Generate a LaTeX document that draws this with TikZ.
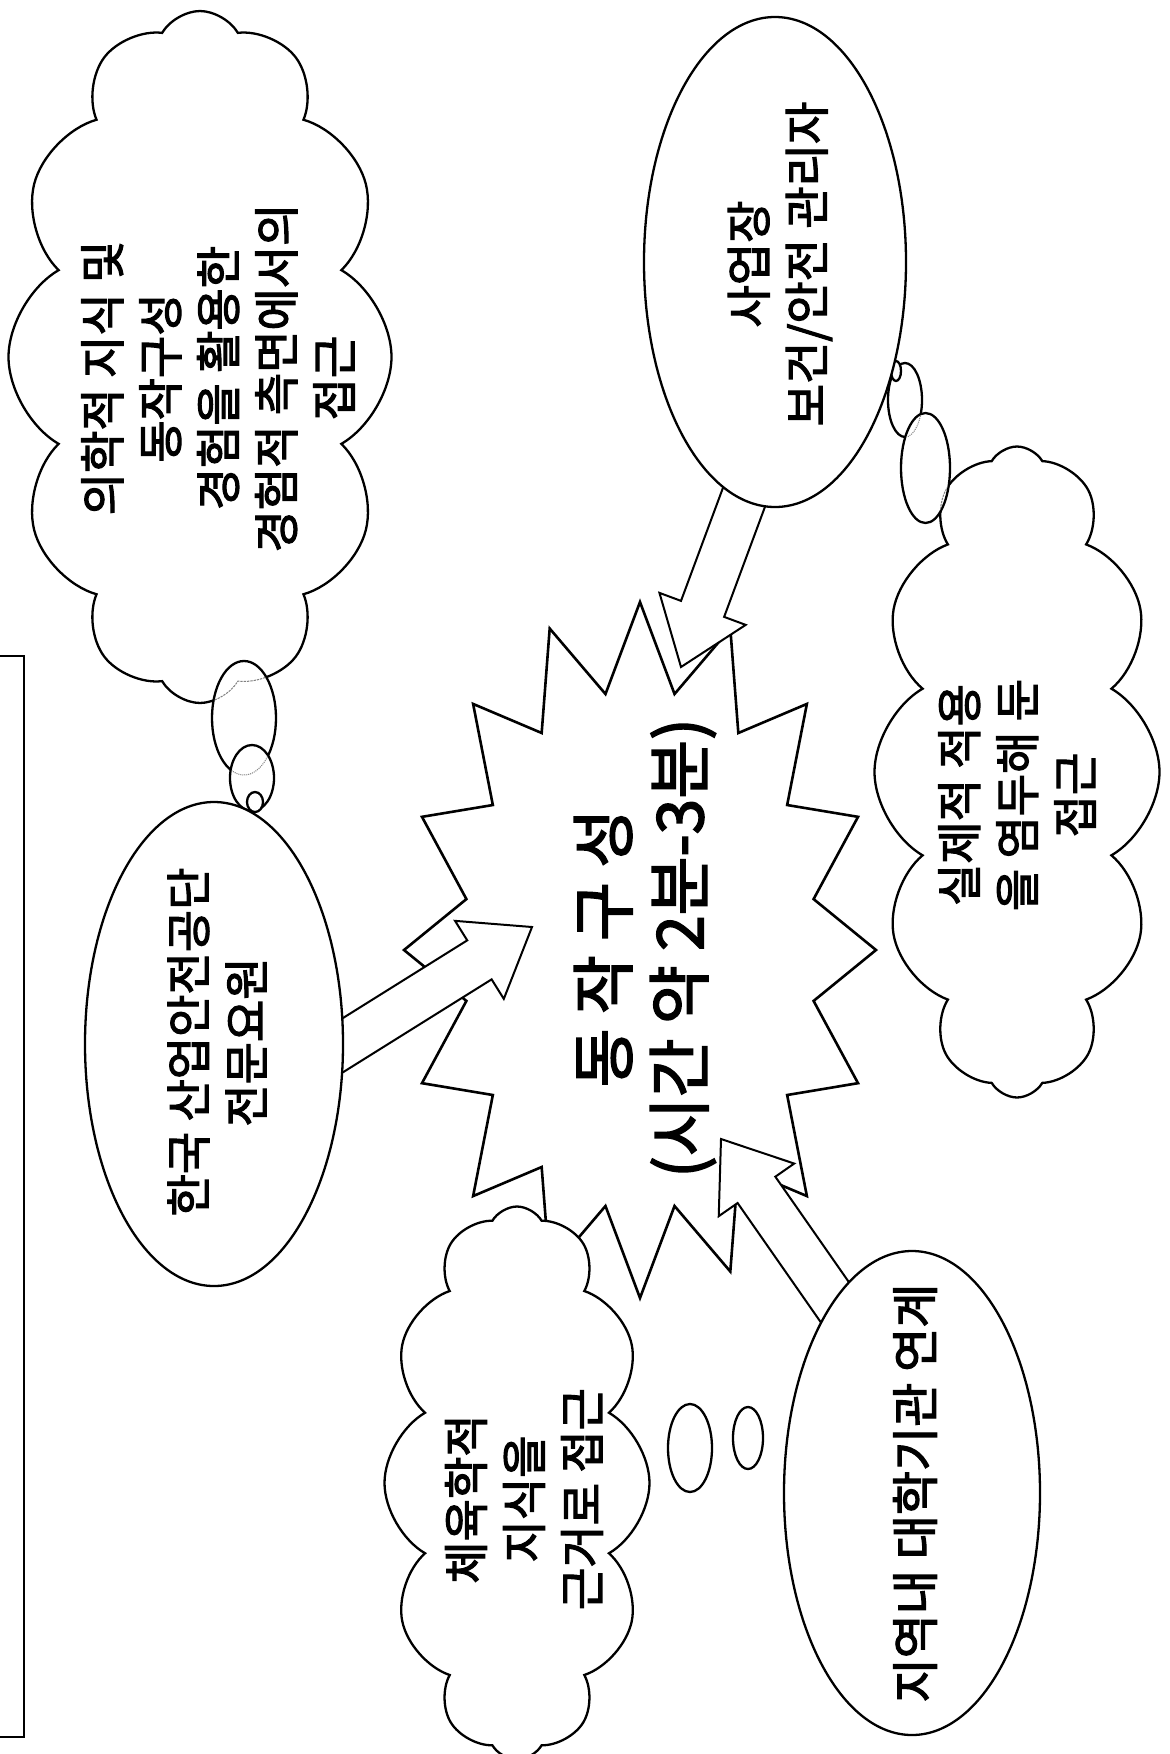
\documentclass[tikz,border=0pt]{standalone}
\usepackage{fontspec}
\setmainfont{Noto Sans CJK KR}[FakeBold=2.5]
\usetikzlibrary{shapes.geometric,shapes.symbols,calc}
\newcommand{\starpath}{(640,602) \foreach \k in {1,...,31}{ -- ({640+236*(1-0.25*mod(\k,2))*sin(\k*11.25)},{950-348*(1-0.25*mod(\k,2))*cos(\k*11.25)}) } -- cycle}
\newcommand{\blockarr}[2]{%
  \path ($(#2)!62pt!(#1)$) coordinate (hb#2);
  \draw[barrow] ($(#1)!23pt!90:(#2)$) -- ($(hb#2)!23pt!90:(#2)$) -- ($(hb#2)!46pt!90:(#2)$) -- (#2)
     -- ($(hb#2)!46pt!-90:(#2)$) -- ($(hb#2)!23pt!-90:(#2)$) -- ($(#1)!23pt!-90:(#2)$) -- cycle;}
\begin{document}
\begin{tikzpicture}[x=1pt,y=-1pt,
 ln/.style={draw=black, line width=2.3pt},
 ell/.style={ellipse, ln, fill=white, inner sep=0pt},
 cld/.style={cloud, cloud puffs=12, cloud puff arc=120, cloud ignores aspect, ln, fill=white, inner sep=0pt},
 hid/.style={draw=gray, densely dotted, line width=1pt, fill=none},
 barrow/.style={draw=black, line width=2pt, fill=white, line join=miter},
 lbl/.style={rotate=90, align=center, inner sep=0pt, font=\fontsize{46}{58}\selectfont},
 big/.style={rotate=90, align=center, inner sep=0pt, font=\fontsize{64}{76}\selectfont}]
\fill[white] (0,0) rectangle (1170,1754);
\useasboundingbox (0,0) rectangle (1170,1754);
% left box
\coordinate (boxTL) at (0,656);
\coordinate (boxBL) at (0,1737);
\draw[line width=2.6pt] (boxTL) -- (24,656) -- (24,1737) -- (boxBL);
% cloud A and its bubbles
\node[cld, minimum width=383, minimum height=692] (cA) at (200,357) {};
\node[ell, minimum width=64, minimum height=114] (a1) at (244,718) {};
\begin{scope}
 \clip (244,718) ellipse [x radius=31, y radius=56];
 \node[cld, hid, minimum width=383, minimum height=692] at (200,357) {};
\end{scope}
\node[ell, minimum width=44, minimum height=66] (a2) at (252,778) {};
\begin{scope}
 \clip (252,778) ellipse [x radius=21, y radius=32];
 \draw[hid] (244,718) ellipse [x radius=32, y radius=57];
\end{scope}
\node[ell, minimum width=16, minimum height=20] (a3) at (255,802) {};
% star
\coordinate (S) at (640,950);
\draw[line width=2.6pt, fill=white, line join=miter] \starpath;
% arrows
\coordinate (tA) at (532,927);
\coordinate (tC) at (681,667);
\coordinate (tD) at (721,1139);
\coordinate (sA) at (300,1072);
\coordinate (sC) at (764.5,442);
\coordinate (sD) at (864,1344);
\blockarr{sA}{tA}
\blockarr{sC}{tC}
\blockarr{sD}{tD}
% ellipse B
\node[ell, minimum width=258, minimum height=484] (B) at (214,1044) {};
% cloud F, bubbles, ellipse C
\node[cld, minimum width=285, minimum height=651] (cF) at (1017,772) {};
\node[ell, minimum width=34, minimum height=74] (c1) at (905,400) {};
\node[ell, minimum width=49, minimum height=110] (c2) at (925.5,468) {};
\begin{scope}
 \clip (925.5,468) ellipse [x radius=23.5, y radius=54];
 \node[cld, hid, minimum width=285, minimum height=651] at (1017,772) {};
 \draw[hid] (905,400) ellipse [x radius=17, y radius=37];
\end{scope}
\node[ell, minimum width=10, minimum height=20] (c0) at (896,371) {};
\node[ell, minimum width=262, minimum height=490] (C) at (775,262) {};
% cloud E, bubbles, ellipse D
\node[cld, minimum width=265, minimum height=553] (cE) at (517,1483) {};
\node[ell, minimum width=44, minimum height=88] (e1) at (690,1448) {};
\node[ell, minimum width=30, minimum height=62] (e2) at (748,1438) {};
\node[ell, minimum width=256, minimum height=484] (D) at (912,1493) {};
% texts
\node[lbl] (tAt) at (218,378) {의학적 지식 및\\동작구성\\경험을 활용한\\경험적 측면에서의\\접근};
\node[lbl] (tBt) at (217,1042) {한국 산업안전공단\\전문요원};
\node[lbl] (tCt) at (780,264) {사업장\\보건/안전 관리자};
\node[lbl] (tFt) at (1017,795) {실제적 적용\\을 염두해 둔\\접근};
\node[lbl] (tEt) at (524,1499) {체육학적\\지식을\\근거로 접근};
\node[lbl, font=\fontsize{48}{58}\selectfont] (tDt) at (915,1493) {지역내 대학기관 연계};
\node[big] (tS) at (645,948) {동 작 구 성\\(시간 약 2분-3분)};
\end{tikzpicture}
\end{document}
